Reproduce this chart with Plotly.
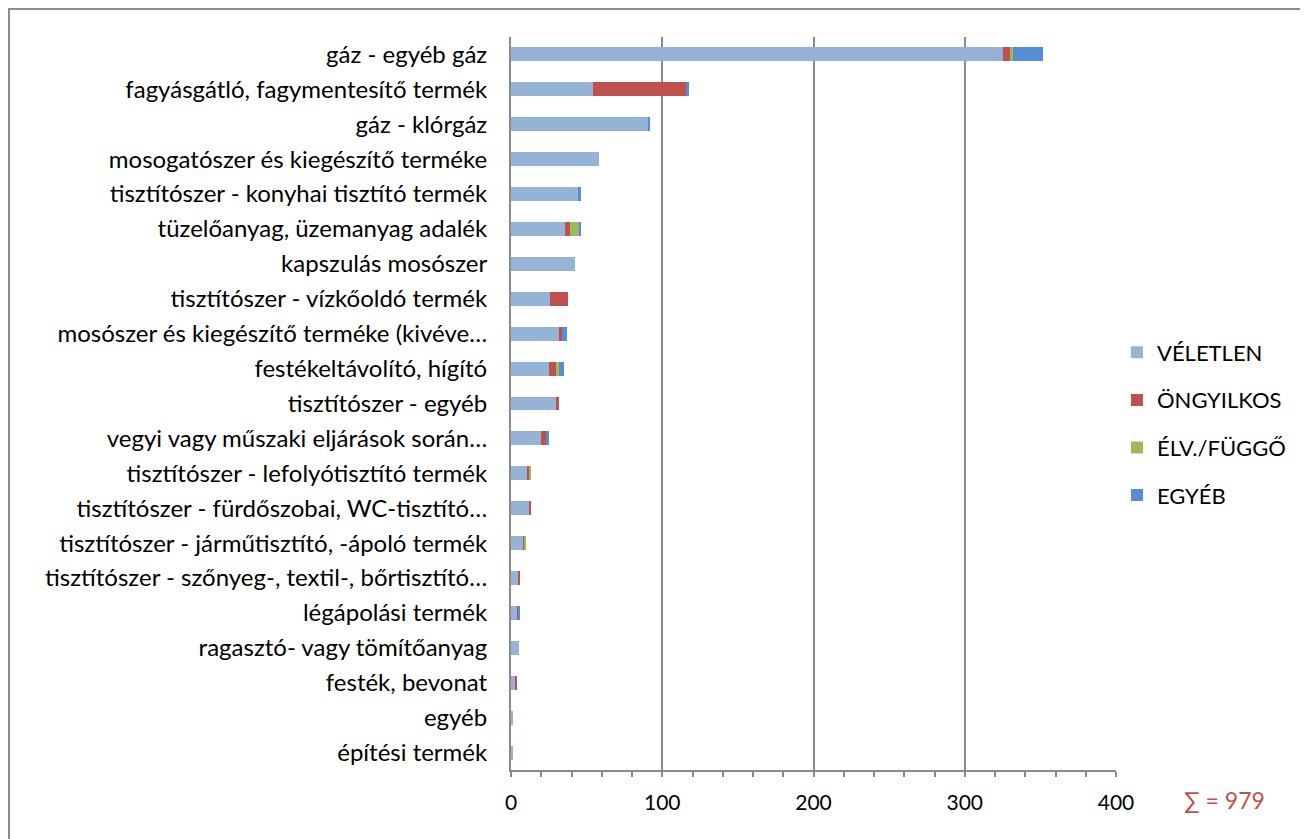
import plotly.graph_objects as go

categories = [
    "gáz - egyéb gáz",
    "fagyásgátló, fagymentesítő termék",
    "gáz - klórgáz",
    "mosogatószer és kiegészítő terméke",
    "tisztítószer - konyhai tisztító termék",
    "tüzelőanyag, üzemanyag adalék",
    "kapszulás mosószer",
    "tisztítószer - vízkőoldó termék",
    "mosószer és kiegészítő terméke (kivéve…",
    "festékeltávolító, hígító",
    "tisztítószer - egyéb",
    "vegyi vagy műszaki eljárások során…",
    "tisztítószer - lefolyótisztító termék",
    "tisztítószer - fürdőszobai, WC-tisztító…",
    "tisztítószer - járműtisztító, -ápoló termék",
    "tisztítószer - szőnyeg-, textil-, bőrtisztító…",
    "légápolási termék",
    "ragasztó- vagy tömítőanyag",
    "festék, bevonat",
    "egyéb",
    "építési termék",
]
veletlen   = [325, 54, 91, 58, 44, 36, 42, 26, 32, 25, 30, 20, 11, 12, 8, 5, 4, 5, 3, 1, 1]
ongyilkos  = [5, 62, 0, 0, 0, 3, 0, 12, 2, 5, 2, 3, 1, 1, 1, 1, 1, 0, 1, 0, 0]
elv_fuggo  = [2, 0, 0, 0, 0, 6, 0, 0, 0, 2, 0, 0, 1, 0, 1, 0, 0, 0, 0, 0, 0]
egyeb      = [20, 2, 1, 0, 2, 1, 0, 0, 3, 3, 0, 2, 0, 0, 0, 0, 1, 0, 0, 0, 0]
series_names = ["VÉLETLEN", "ÖNGYILKOS", "ÉLV./FÜGGŐ", "EGYÉB"]
series_values = [veletlen, ongyilkos, elv_fuggo, egyeb]
series_colors = ["#95B3D7", "#C0504D", "#9BBB59", "#558ED5"]
total_label = "∑ = 979"

FONT = "Lato, Carlito, Calibri, sans-serif"
GRID = "#8A8A8A"

fig = go.Figure()
for name, vals, col in zip(series_names, series_values, series_colors):
    fig.add_trace(go.Bar(
        y=categories, x=vals, name=name, orientation="h",
        marker=dict(color=col, line=dict(width=0)),
        legendgroup=name,
    ))

# page is rendered with an 8px body margin; coordinates below are figure px
OFF = 8
W, H = 1308 - OFF, 839 - OFF
L, R, T, B = 511 - OFF, 1116 - OFF, 37 - OFF, 770 - OFF
PW, PH = R - L, B - T

def px(x):
    return (x - OFF - L) / PW

def py(y):
    return (B - (y - OFF)) / PH

fig.update_layout(
    width=W, height=H,
    margin=dict(l=L, r=W - R, t=T, b=H - B, pad=0),
    barmode="stack", bargap=0.6,
    plot_bgcolor="white", paper_bgcolor="white",
    font=dict(family=FONT, size=22, color="black"),
    showlegend=True,
    legend=dict(
        x=px(1117), xanchor="left", y=py(424), yanchor="middle",
        traceorder="grouped", tracegroupgap=16,
        font=dict(family=FONT, size=22, color="black"),
        itemwidth=30, bgcolor="rgba(0,0,0,0)",
    ),
    xaxis=dict(
        range=[0, 400], dtick=100, tick0=0,
        showgrid=True, gridcolor=GRID, gridwidth=2,
        showline=True, linecolor=GRID, linewidth=2,
        ticks="outside", ticklen=5, tickcolor=GRID, tickwidth=2,
        minor=dict(dtick=20, ticks="outside", ticklen=5, tickcolor=GRID, tickwidth=1.5, showgrid=False),
        ticklabelstandoff=8,
        zeroline=False,
        tickfont=dict(family=FONT, size=21, color="black"),
    ),
    yaxis=dict(
        categoryorder="array", categoryarray=categories,
        autorange="reversed",
        showline=True, linecolor=GRID, linewidth=2,
        ticks="", showgrid=False,
        ticklabelstandoff=17,
        tickfont=dict(family=FONT, size=24, color="black"),
    ),
    shapes=[dict(
        type="rect", xref="paper", yref="paper",
        x0=px(9), x1=px(1303),
        y0=py(850), y1=py(9),
        line=dict(color="#8C8C8C", width=2), fillcolor="rgba(0,0,0,0)", layer="below",
    )],
    annotations=[dict(
        text=total_label, xref="paper", yref="paper",
        x=px(1224), y=py(800),
        xanchor="center", yanchor="middle", showarrow=False,
        font=dict(family=FONT, size=23, color="#C0504D"),
    )],
)

fig.write_html("out.html")
